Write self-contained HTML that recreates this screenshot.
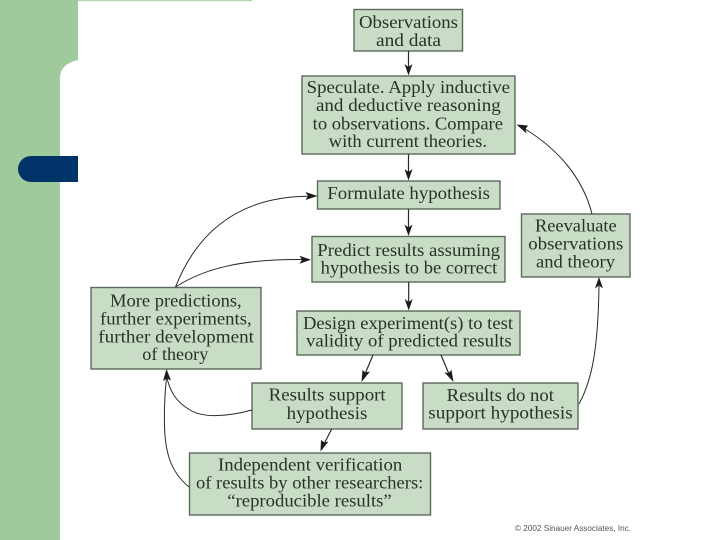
<!DOCTYPE html>
<html>
<head>
<meta charset="utf-8">
<style>
html,body{margin:0;padding:0;background:#fff;width:720px;height:540px;overflow:hidden}
svg{display:block}
text{font-family:"Liberation Serif",serif;font-size:17.5px;fill:#2a322a}
.b{fill:#c9dcc5;stroke:#5a6b5b;stroke-width:1.4}
.c{fill:none;stroke:#2a2a2a;stroke-width:1}
.s{fill:none;stroke:#2a2a2a;stroke-width:1.2}
.h{fill:#1c1c1c}
</style>
</head>
<body>
<svg width="720" height="540" viewBox="0 0 720 540" xmlns="http://www.w3.org/2000/svg">
<rect width="720" height="540" fill="#fff"/>
<!-- background -->
<rect x="0" y="0" width="60" height="540" fill="#9fcb9c"/>
<rect x="60" y="0" width="18" height="60" fill="#9fcb9c"/>
<rect x="78" y="0" width="174" height="1.200" fill="#b4d4b1"/>
<path d="M60 78 Q60 64 78 60 L60 60 Z" fill="#9fcb9c"/>
<path d="M78 156 H31 A13 13 0 0 0 31 182 H78 Z" fill="#003468"/>
<!-- boxes -->
<rect class="b" x="354" y="9.500" width="108.500" height="41.500"/>
<rect class="b" x="302" y="76" width="213" height="78"/>
<rect class="b" x="317.500" y="181" width="182.500" height="28"/>
<rect class="b" x="312" y="236.500" width="193" height="45.500"/>
<rect class="b" x="521.500" y="214" width="108.500" height="63"/>
<rect class="b" x="91" y="287.500" width="170" height="81.500"/>
<rect class="b" x="297" y="311" width="223" height="44"/>
<rect class="b" x="252" y="383" width="150" height="46"/>
<rect class="b" x="423" y="383" width="155" height="46"/>
<rect class="b" x="189.500" y="453" width="241" height="62"/>
<!-- straight connectors -->
<path class="s" d="M408.500 51V68M408.500 154V174M408.500 209V229M408.700 282V304M373 355L365 374M441 355L449 374M331.700 429L324 444"/>
<path class="h" d="M408.500 75.500L404.500 64L408.500 67L412.500 64Z"/>
<path class="h" d="M408.500 180.500L404.500 169L408.500 172L412.500 169Z"/>
<path class="h" d="M408.500 236L404.500 224.500L408.500 227.500L412.500 224.500Z"/>
<path class="h" d="M408.700 310.500L404.700 299L408.700 302L412.700 299Z"/>
<path class="h" d="M361.500 382L362.500 370L365.500 372.500L370 371.500Z"/>
<path class="h" d="M453.500 382L444.500 372.500L448.500 373L451.500 370Z"/>
<path class="h" d="M320.500 451.500L321 440L324.500 442.500L328.500 441.500Z"/>
<!-- curved connectors -->
<path class="c" d="M592 214C583 178 558 149 525 129"/>
<path class="h" d="M516.500 124.500L528 125.500L525.500 129L526.500 133.500Z"/>
<path class="c" d="M175.500 287C198 230 240 197 308 196.300"/>
<path class="h" d="M317.500 196L305.500 192L308 196L305.500 200Z"/>
<path class="c" d="M175.500 287C205 268 243 259 302 259.500"/>
<path class="h" d="M311 259.800L299.500 255.800L302 259.800L299.500 263.800Z"/>
<path class="c" d="M252 410C226 417 203 418 190 410C176 402 170 391 167 378"/>
<path class="h" d="M166.500 369L163 381L167 378.500L171 380.500Z"/>
<path class="c" d="M189 487C172 473 165 455 164.500 425C164 405 165 392 166.500 378"/>
<path class="c" d="M579 404C592 380 598 350 599 286"/>
<path class="h" d="M599 277L595 288.500L599 285.500L603 288.500Z"/>
<!-- labels -->
<g>
<text x="359" y="28" textLength="99" lengthAdjust="spacingAndGlyphs">Observations</text>
<text x="376" y="46" textLength="65" lengthAdjust="spacingAndGlyphs">and data</text>
<text x="306.700" y="93" textLength="203.300" lengthAdjust="spacingAndGlyphs">Speculate. Apply inductive</text>
<text x="316" y="111" textLength="184.700" lengthAdjust="spacingAndGlyphs">and deductive reasoning</text>
<text x="312.700" y="129.500" textLength="190.300" lengthAdjust="spacingAndGlyphs">to observations. Compare</text>
<text x="328.700" y="147" textLength="158.300" lengthAdjust="spacingAndGlyphs">with current theories.</text>
<text x="327.300" y="199" textLength="162.700" lengthAdjust="spacingAndGlyphs">Formulate hypothesis</text>
<text x="317.300" y="256" textLength="182.700" lengthAdjust="spacingAndGlyphs">Predict results assuming</text>
<text x="320.700" y="273.500" textLength="176.600" lengthAdjust="spacingAndGlyphs">hypothesis to be correct</text>
<text x="535" y="231.500" textLength="81.700" lengthAdjust="spacingAndGlyphs">Reevaluate</text>
<text x="528.300" y="249.500" textLength="95" lengthAdjust="spacingAndGlyphs">observations</text>
<text x="536" y="267.300" textLength="79" lengthAdjust="spacingAndGlyphs">and theory</text>
<text x="110" y="306.500" textLength="131.700" lengthAdjust="spacingAndGlyphs">More predictions,</text>
<text x="100" y="324.300" textLength="151.700" lengthAdjust="spacingAndGlyphs">further experiments,</text>
<text x="98.300" y="342.300" textLength="155.700" lengthAdjust="spacingAndGlyphs">further development</text>
<text x="142.300" y="360" textLength="66" lengthAdjust="spacingAndGlyphs">of theory</text>
<text x="303" y="329" textLength="210" lengthAdjust="spacingAndGlyphs">Design experiment(s) to test</text>
<text x="306" y="346.700" textLength="205.700" lengthAdjust="spacingAndGlyphs">validity of predicted results</text>
<text x="268.700" y="400.700" textLength="117" lengthAdjust="spacingAndGlyphs">Results support</text>
<text x="286.700" y="419" textLength="80.600" lengthAdjust="spacingAndGlyphs">hypothesis</text>
<text x="446.700" y="401" textLength="107.300" lengthAdjust="spacingAndGlyphs">Results do not</text>
<text x="428.300" y="418.700" textLength="144.400" lengthAdjust="spacingAndGlyphs">support hypothesis</text>
<text x="218" y="470.300" textLength="184.300" lengthAdjust="spacingAndGlyphs">Independent verification</text>
<text x="196" y="488.300" textLength="227.300" lengthAdjust="spacingAndGlyphs">of results by other researchers:</text>
<text x="227.300" y="506.700" textLength="164.400" lengthAdjust="spacingAndGlyphs">“reproducible results”</text>
</g>
<text x="515" y="531" textLength="116" lengthAdjust="spacingAndGlyphs" style="font-family:'Liberation Sans',sans-serif;font-size:8px;fill:#555">© 2002 Sinauer Associates, Inc.</text>
</svg>
</body>
</html>
